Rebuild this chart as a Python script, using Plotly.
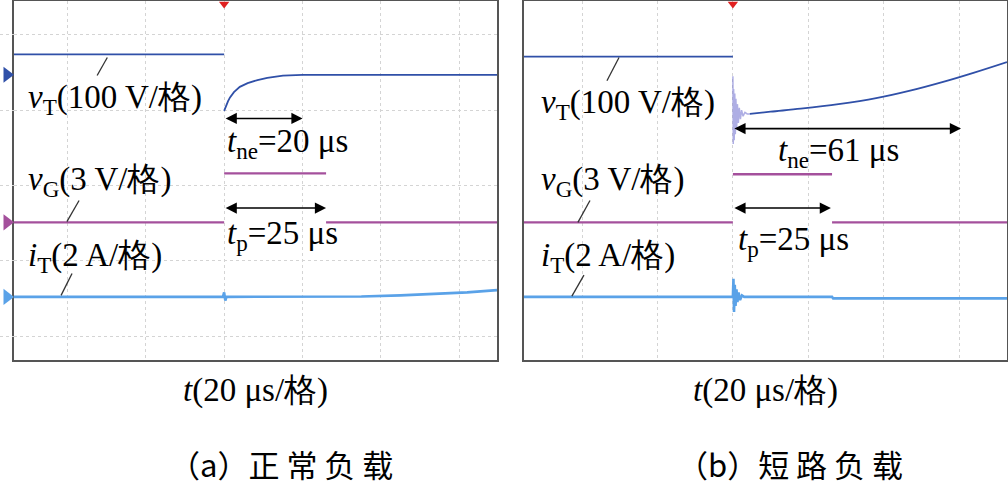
import plotly.graph_objects as go

# 时间轴单位 μs，纵轴单位为“格”
# (a) 正常负载
a_vT_pre_t = [-53.6, 0]
a_vT_pre_v = [1.74, 1.74]
a_vT_t = [0, 0.5, 1, 1.5, 2.5, 4, 6, 8.5, 11, 15, 20, 30, 69.6]
a_vT_v = [0.99, 1.06, 1.12, 1.17, 1.24, 1.31, 1.36, 1.40, 1.43, 1.46, 1.47, 1.47, 1.47]
a_vG_t = [-53.6, 0, None, 0, 26, None, 26, 69.6]
a_vG_v = [-0.49, -0.49, None, 0.16, 0.16, None, -0.49, -0.49]
a_iT_t = [-53.6, -0.3, 0, 0.3, 0.6, 27, 35, 45, 55, 62, 69.6]
a_iT_v = [-1.48, -1.48, -1.42, -1.53, -1.48, -1.48, -1.475, -1.46, -1.44, -1.42, -1.39]

# (b) 短路负载
b_vT_pre_t = [-55.4, 0]
b_vT_pre_v = [1.71, 1.71]
b_ring_t = [0, 0.1, 0.2, 0.35, 0.5, 0.65, 0.8, 1.0, 1.2, 1.45, 1.7, 2.0, 2.3, 2.7, 3.2, 3.8, 4.5]
b_ring_v = [1.45, 0.55, 1.28, 0.60, 1.22, 0.68, 1.15, 0.76, 1.08, 0.83, 1.03, 0.88, 1.00, 0.92, 0.97, 0.95, 0.95]
b_vT_t = [4.5, 10, 18, 28, 38, 47, 56, 64, 72.7]
b_vT_v = [0.95, 0.98, 1.02, 1.08, 1.16, 1.26, 1.38, 1.50, 1.64]
b_vG_t = [-55.4, 0, None, 0, 26.3, None, 26.3, 72.7]
b_vG_v = [-0.49, -0.49, None, 0.15, 0.15, None, -0.49, -0.49]
b_iT_t = [-55.4, 0, 0.15, 0.3, 0.5, 0.7, 0.95, 1.2, 1.5, 1.9, 2.4, 3.0, 26.3, 26.6, 72.7]
b_iT_v = [-1.48, -1.48, -1.24, -1.68, -1.32, -1.60, -1.38, -1.55, -1.42, -1.52, -1.46, -1.48, -1.48, -1.50, -1.50]

ch_levels = [1.47, -0.49, -1.48]  # 左侧通道零位标记
tne_a, tp_a = 20, 26
tne_b, tp_b = 60.5, 26

C_VT = "#3050a8"
C_VG = "#a4509c"
C_IT = "#5aa2e8"
LAT = "Liberation Serif"
CJK = "Noto Sans CJK SC"

fig = go.Figure()

def line(t, v, c, w, xa, ya, shape="linear"):
    fig.add_scatter(x=t, y=v, mode="lines", line=dict(color=c, width=w, shape=shape),
                    xaxis=xa, yaxis=ya, showlegend=False, hoverinfo="skip")

line(a_vT_pre_t, a_vT_pre_v, C_VT, 1.8, "x", "y")
line(a_vT_t, a_vT_v, C_VT, 1.8, "x", "y")
line(a_vG_t, a_vG_v, C_VG, 2.4, "x", "y")
line(a_iT_t, a_iT_v, C_IT, 2.6, "x", "y")

line(b_vT_pre_t, b_vT_pre_v, C_VT, 1.8, "x2", "y2")
line(b_ring_t, b_ring_v, "rgba(120,120,210,0.6)", 1.5, "x2", "y2")
line(b_vT_t, b_vT_v, C_VT, 1.8, "x2", "y2", "spline")
line(b_vG_t, b_vG_v, C_VG, 2.4, "x2", "y2")
line(b_iT_t, b_iT_v, C_IT, 2.6, "x2", "y2")

# 通道标记（左侧）与触发标记（顶部）
fig.add_scatter(x=[0.5] * 3, y=ch_levels, mode="markers",
                marker=dict(symbol="triangle-right", size=14, color=[C_VT, C_VG, C_IT]),
                cliponaxis=False, showlegend=False, hoverinfo="skip", xaxis="x3", yaxis="y")
for xa, ya in [("x", "y"), ("x2", "y2")]:
    fig.add_scatter(x=[0], y=[2.41], mode="markers",
                    marker=dict(symbol="triangle-down", size=9, color="#e02020"),
                    cliponaxis=False, showlegend=False, hoverinfo="skip", xaxis=xa, yaxis=ya)

ann = []

def label(xa, ya, x, y, text, size=33):
    ann.append(dict(x=x, y=y, xref=xa, yref=ya, text=text, showarrow=False,
                    xanchor="left", yanchor="middle", font=dict(family=LAT, size=size, color="black")))

def darrow(xa, ya, x0, x1, y):
    ann.append(dict(x=x1, y=y, ax=x0, ay=y, xref=xa, yref=ya, axref=xa, ayref=ya,
                    text="", showarrow=True, arrowhead=2, arrowside="end+start",
                    arrowsize=1.4, arrowwidth=1.6, arrowcolor="black"))

# (a)
label("x", "y", -50.5, 1.14, "<i>v</i><sub>T</sub>(100 V/格)")
label("x", "y", -50.5, 0.05, "<i>v</i><sub>G</sub>(3 V/格)")
label("x", "y", -50.5, -0.95, "<i>i</i><sub>T</sub>(2 A/格)")
label("x", "y", 0.3, 0.56, "<i>t</i><sub>ne</sub>=20 μs")
label("x", "y", 0.3, -0.66, "<i>t</i><sub>p</sub>=25 μs")
darrow("x", "y", 0, tne_a, 0.89)
darrow("x", "y", 0, tp_a, -0.30)

# (b)
label("x2", "y2", -51.5, 1.07, "<i>v</i><sub>T</sub>(100 V/格)")
label("x2", "y2", -51.5, 0.05, "<i>v</i><sub>G</sub>(3 V/格)")
label("x2", "y2", -51.5, -0.95, "<i>i</i><sub>T</sub>(2 A/格)")
label("x2", "y2", 11.5, 0.44, "<i>t</i><sub>ne</sub>=61 μs")
label("x2", "y2", 0.8, -0.74, "<i>t</i><sub>p</sub>=25 μs")
darrow("x2", "y2", 0, tne_b, 0.755)
darrow("x2", "y2", 0, tp_b, -0.30)

# 横轴说明与分图标题
for xc in [0.253, 0.759]:
    ann.append(dict(x=xc, y=1 - 390 / 485, xref="paper", yref="paper", showarrow=False,
                    xanchor="center", yanchor="middle",
                    text="<i>t</i>(20 μs/格)", font=dict(family=LAT, size=33, color="black")))
for xc, txt in [(0.279, "（a）正 常 负 载"), (0.784, "（b）短 路 负 载")]:
    ann.append(dict(x=xc, y=1 - 463 / 485, xref="paper", yref="paper", showarrow=False,
                    xanchor="center", yanchor="middle",
                    text=txt, font=dict(family=CJK, size=31, color="black")))

# 引线
shapes = []
for xr, yr, x0, y0, x1, y1 in [
    ("x", "y", -32.4, 1.46, -29.8, 1.70),
    ("x", "y", -40.1, -0.48, -37.0, -0.20),
    ("x", "y", -41.6, -1.46, -38.8, -1.17),
    ("x2", "y2", -33.4, 1.39, -30.2, 1.70),
    ("x2", "y2", -41.1, -0.49, -37.9, -0.20),
    ("x2", "y2", -42.7, -1.47, -39.5, -1.19),
]:
    shapes.append(dict(type="line", xref=xr, yref=yr, x0=x0, y0=y0, x1=x1, y1=y1,
                       line=dict(color="#333", width=1.3)))

ax_common = dict(showticklabels=False, ticks="", zeroline=False, showline=True, mirror=True,
                 linecolor="#555", linewidth=2, gridcolor="#d4d4d4", griddash="dot", gridwidth=1)
ydom = [1 - 360 / 485, 1 - 1 / 485]

fig.update_layout(
    width=1008, height=485,
    margin=dict(l=0, r=0, t=0, b=0),
    paper_bgcolor="white", plot_bgcolor="white",
    xaxis=dict(domain=[14 / 1008, 497 / 1008], range=[-53.6, 69.6], anchor="y",
               tickvals=[-40, -20, 0, 20, 40, 60], showgrid=True, **ax_common),
    yaxis=dict(domain=ydom, range=[-2.318, 2.45], anchor="x",
               tickvals=[-2, -1, 0, 1, 2], showgrid=True, **ax_common),
    xaxis2=dict(domain=[524 / 1008, 1007 / 1008], range=[-55.4, 72.7], anchor="y2",
                tickvals=[-40, -20, 0, 20, 40, 60], showgrid=True, **ax_common),
    yaxis2=dict(domain=ydom, range=[-2.318, 2.45], anchor="x2", showgrid=False, **ax_common),
    xaxis3=dict(domain=[0, 14 / 1008], range=[0, 1], anchor="y", visible=False),
    annotations=ann,
    shapes=shapes,
)

fig.write_html("out.html", config={"displayModeBar": False},
               post_script="document.body.style.margin='0';")
